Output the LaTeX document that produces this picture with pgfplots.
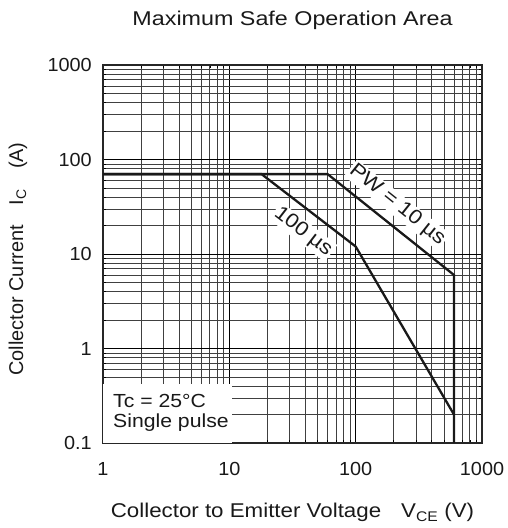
\documentclass[border=0pt]{standalone}
\usepackage{pgfplots}
\pgfplotsset{compat=1.18}
\usepackage{fontspec}
\setmainfont[FakeStretch=1.12]{Liberation Sans}
\newfontfamily\tickfont[FakeStretch=1.05]{Liberation Sans}
\newfontfamily\titlefont[FakeStretch=1.17]{Liberation Sans}
\newfontfamily\ylabfont{Liberation Sans}

\pgfdeclarelayer{boxlayer}
\pgfplotsset{
  layers/soa/.define layer set={axis background,axis grid,boxlayer,axis ticks,axis lines,axis tick labels,main,axis descriptions,axis foreground}{},
}

\begin{document}
\begin{tikzpicture}
\begin{axis}[
    set layers=soa,
    at={(0,0)}, anchor=south west,
    xmode=log, ymode=log,
    scale only axis,
    width=379bp, height=378bp,
    xmin=1, xmax=1000, ymin=0.1, ymax=1000,
    xtick={1,10,100,1000}, xticklabels={1,10,100,1000},
    ytick={0.1,1,10,100,1000}, yticklabels={0.1,1,10,100,1000},
    grid=both,
    major grid style={black, line width=0.6bp},
    minor grid style={black!75, line width=0.55bp},
    tick style={black, line width=0.5bp},
    major tick length=4bp, minor tick length=3bp,
    axis line style={black!85, line width=2.5bp},
    ticklabel style={font=\tickfont\fontsize{19}{19}\selectfont, text=black!90},
    xticklabel style={anchor=base, yshift=-32bp},
    yticklabel style={anchor=east, inner sep=0pt, xshift=-11bp},
    title={Maximum Safe Operation Area},
    title style={font=\titlefont\fontsize{20}{24}\selectfont, text=black!90,
      at={(axis description cs:0.5,1.0900)}, anchor=base},
    xlabel={Collector to Emitter Voltage\quad V\textsubscript{CE} (V)},
    xlabel style={font=\fontsize{20}{24}\selectfont, text=black!90,
      at={(axis description cs:0.5,-0.1984)}, anchor=base},
    ylabel={Collector Current\quad I\textsubscript{C}\quad(A)},
    ylabel style={font=\ylabfont\fontsize{20}{24}\selectfont, text=black!90,
      at={(axis description cs:-0.2243,0.4868)}, anchor=center},
]
% PW = 10 us
\addplot[black!90, line width=2.3bp] coordinates {
  (1,70) (60,70) (600,6) (600,0.1)
};
% 100 us
\addplot[black!90, line width=2.3bp] coordinates {
  (1,70) (18,70) (100,12) (600,0.2)
};
\node[fill=white, inner sep=1.5bp, rotate=-38.6, text=black!90,
  font=\fontsize{20}{20}\selectfont] at (axis cs:213,33) {PW = 10 µs};
\node[fill=white, inner sep=1.5bp, rotate=-37.6, text=black!90,
  font=\fontsize{20}{20}\selectfont] at (axis cs:38.3,17.1) {100 µs};
\node[on layer=boxlayer, fill=white, anchor=south west, inner sep=0pt,
  minimum width=128.5bp, minimum height=58.5bp] at (rel axis cs:0,0) {};
\node[anchor=base west, inner sep=0pt, text=black!90,
  font=\fontsize{19}{19}\selectfont] at (rel axis cs:0.0264,0.0952) {Tc = 25°C};
\node[anchor=base west, inner sep=0pt, text=black!90,
  font=\fontsize{19}{19}\selectfont] at (rel axis cs:0.0264,0.0397) {Single pulse};
\end{axis}
\path (-103bp,-85bp) rectangle (404bp,443bp);
\end{tikzpicture}
\end{document}
